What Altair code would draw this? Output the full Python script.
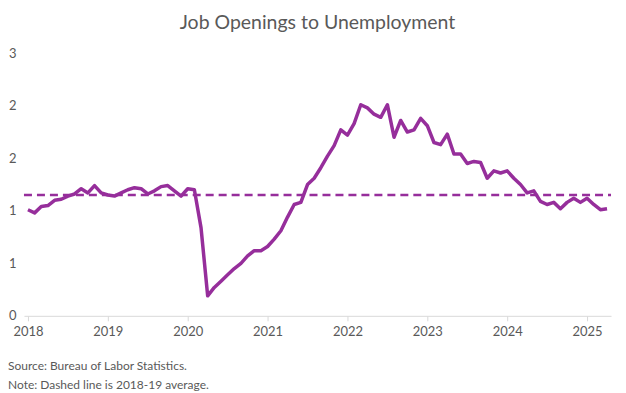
import altair as alt
import pandas as pd

# Monthly ratio of job openings to unemployed persons, Jan 2018 - Apr 2025
ratio = [
    # 2018
    1.01, 0.98, 1.04, 1.05, 1.10, 1.11, 1.14, 1.16, 1.21, 1.17, 1.24, 1.17,
    # 2019
    1.15, 1.14, 1.17, 1.20, 1.22, 1.21, 1.16, 1.19, 1.23, 1.24, 1.19, 1.14,
    # 2020
    1.21, 1.20, 0.84, 0.19, 0.27, 0.33, 0.39, 0.45, 0.50, 0.57, 0.62, 0.62,
    # 2021
    0.66, 0.73, 0.81, 0.94, 1.06, 1.08, 1.25, 1.31, 1.41, 1.52, 1.62, 1.77,
    # 2022
    1.72, 1.83, 2.01, 1.98, 1.92, 1.89, 2.01, 1.70, 1.86, 1.75, 1.77, 1.88,
    # 2023
    1.81, 1.65, 1.63, 1.73, 1.54, 1.54, 1.45, 1.47, 1.46, 1.31, 1.38, 1.36,
    # 2024
    1.38, 1.31, 1.25, 1.17, 1.19, 1.09, 1.06, 1.08, 1.02, 1.08, 1.12, 1.08,
    # 2025
    1.12, 1.06, 1.01, 1.02,
]
year_ticks = [2018, 2019, 2020, 2021, 2022, 2023, 2024, 2025]
y_ticks = [0, 0.5, 1.0, 1.5, 2.0, 2.5]
title_text = "Job Openings to Unemployment"
source_text = "Source: Bureau of Labor Statistics."
note_text = "Note: Dashed line is 2018-19 average."

t = [2018 + i / 12 for i in range(len(ratio))]
df = pd.DataFrame({"t": t, "ratio": ratio})
avg_1819 = sum(ratio[:24]) / 24
avg_df = pd.DataFrame({"avg": [avg_1819]})
note_df = pd.DataFrame({"a": [0]})

W, H = 588, 263
PURPLE = "#962e9b"
GRAY = "#595959"
FONT = "Lato"

x_scale = alt.Scale(domain=[2017.95, 2025.3], nice=False, zero=False)
y_scale = alt.Scale(domain=[0, 2.5], nice=False)

line = alt.Chart(df).mark_line(color=PURPLE, strokeWidth=3.5, strokeJoin="round").encode(
    x=alt.X("t:Q", scale=x_scale, title=None,
            axis=alt.Axis(values=year_ticks, format="d", labelFlush=False,
                          labelFont=FONT, labelFontSize=13, labelColor=GRAY,
                          domainColor="#d9d9d9", tickColor="#d9d9d9", tickSize=5,
                          labelPadding=5, grid=False)),
    y=alt.Y("ratio:Q", scale=y_scale, title=None,
            axis=alt.Axis(values=y_ticks, labelExpr="round(datum.value)",
                          labelFont=FONT, labelFontSize=13, labelColor=GRAY,
                          domain=False, ticks=False, grid=False, labelPadding=8)),
)

avg_rule = alt.Chart(avg_df).mark_rule(color=PURPLE, strokeWidth=2.5, strokeDash=[8, 5]).encode(
    y=alt.Y("avg:Q", scale=y_scale),
    x=alt.value(0), x2=alt.value(W),
)

src = alt.Chart(note_df).mark_text(align="left", baseline="middle", font=FONT,
                                   fontSize=12, color=GRAY).encode(
    x=alt.value(-16), y=alt.value(313), text=alt.value(source_text))
note = alt.Chart(note_df).mark_text(align="left", baseline="middle", font=FONT,
                                    fontSize=12, color=GRAY).encode(
    x=alt.value(-16), y=alt.value(332), text=alt.value(note_text))

chart = alt.layer(avg_rule, line, src, note).properties(
    width=W, height=H,
    background="white",
    padding={"left": 0, "top": 4, "right": 5, "bottom": 5},
    title=alt.Title(title_text, font=FONT, fontSize=19.5, fontWeight="normal",
                    color=GRAY, anchor="middle", offset=14),
).configure_view(strokeWidth=0)

chart.save("out.html", embed_options={"renderer": "svg", "actions": False})
